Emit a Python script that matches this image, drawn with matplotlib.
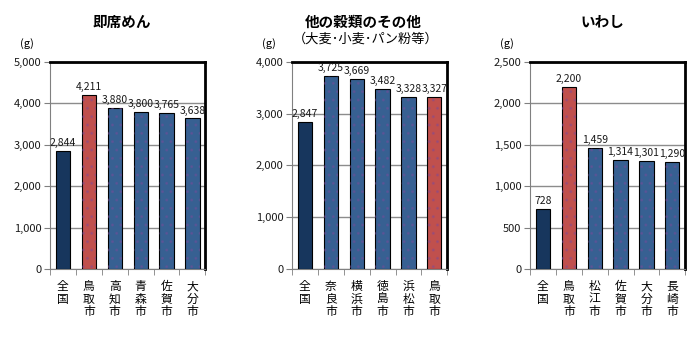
import numpy as np
import matplotlib.pyplot as plt

plt.rcParams['font.family'] = ['Noto Sans CJK JP', 'DejaVu Sans']

# data
titles = ["即席めん", "他の穀類のその他", "いわし"]
subtitles = ["", "（大麦･小麦･パン粉等）", ""]
cities1 = ["全国", "鳥取市", "高知市", "青森市", "佐賀市", "大分市"]
values1 = [2844, 4211, 3880, 3800, 3765, 3638]
cities2 = ["全国", "奈良市", "横浜市", "徳島市", "浜松市", "鳥取市"]
values2 = [2847, 3725, 3669, 3482, 3328, 3327]
cities3 = ["全国", "鳥取市", "松江市", "佐賀市", "大分市", "長崎市"]
values3 = [728, 2200, 1459, 1314, 1301, 1290]
ymax = [5000, 4000, 2500]
ystep = [1000, 1000, 500]

navy = "#17365D"
red = "#C0504D"
blue = "#376092"

panels = [(cities1, values1), (cities2, values2), (cities3, values3)]
lefts = [0.0714, 0.417, 0.757]
title_x = [0.174, 0.519, 0.86]

fig = plt.figure(figsize=(7, 3.4), dpi=100)

for i, (cities, values) in enumerate(panels):
    ax = fig.add_axes([lefts[i], 0.209, 0.222, 0.609])
    x = np.arange(len(cities))
    colors = []
    for c in cities:
        if c == "全国":
            colors.append(navy)
        elif c == "鳥取市":
            colors.append(red)
        else:
            colors.append(blue)
    ax.bar(x, values, width=0.55, color=colors, edgecolor="black", linewidth=0.8, zorder=3)
    # dotted fill like the original
    ax.bar(x[1:], values[1:], width=0.55, color="none", edgecolor="#7a4a9a",
           linewidth=0, hatch="..", alpha=0.35, zorder=4)
    for xi, v in zip(x, values):
        ax.annotate("{:,}".format(v), (xi, v), xytext=(0, 2), textcoords="offset points",
                    ha="center", va="bottom", fontsize=7.5, color="#1a1a1a", zorder=6)
    ax.set_xlim(-0.5, len(cities) - 0.5)
    ax.set_ylim(0, ymax[i])
    yt = np.arange(0, ymax[i] + 1, ystep[i])
    ax.set_yticks(yt)
    ax.set_yticklabels(["{:,}".format(t) for t in yt], fontsize=8, color="#1a1a1a")
    ax.yaxis.grid(True, color="#8c8c8c", linewidth=1, zorder=0)
    ax.set_axisbelow(True)
    ax.set_xticks(x)
    ax.set_xticklabels(["\n".join(list(c)) for c in cities], fontsize=8.5, linespacing=0.95,
                       va="top")
    ax.tick_params(axis="x", length=0, pad=8)
    ax.set_xticks(np.arange(-0.5, len(cities)), minor=True)
    ax.tick_params(axis="x", which="minor", length=4, color="#808080")
    ax.tick_params(axis="y", length=4, color="#808080", pad=2)
    ax.spines["top"].set_linewidth(2)
    ax.spines["right"].set_linewidth(2)
    ax.spines["left"].set_color("#808080")
    ax.spines["bottom"].set_color("#808080")
    ax.text(-0.15, 1.09, "(g)", transform=ax.transAxes, fontsize=8, ha="center", va="center")
    fig.text(title_x[i], 0.935, titles[i], ha="center", va="center",
             fontsize=10.5, fontweight="bold")
    if subtitles[i]:
        fig.text(title_x[i] + 0.003, 0.885, subtitles[i], ha="center", va="center", fontsize=9.5)

fig.savefig("out.png", dpi=100)
